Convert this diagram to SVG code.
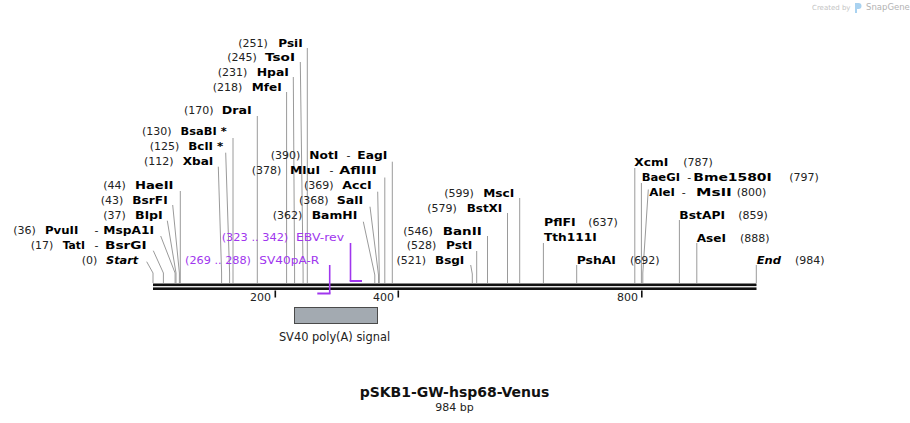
<svg xmlns="http://www.w3.org/2000/svg" width="910" height="423" viewBox="0 0 910 423">
<style>
text{font-family:"DejaVu Sans","Liberation Sans",sans-serif;font-size:11px}
.n{fill:#222}
.b{font-weight:bold;fill:#000}
.bi{font-weight:bold;font-style:italic;fill:#000}
.p{fill:#a036ee}
.ld{stroke:#9a9a9a;stroke-width:1;fill:none}
.pr{stroke:#a036ee;fill:none}
.wm{fill:#c4c4c4;font-size:7px}
</style>
<rect width="910" height="423" fill="#fff"/>
<g id="watermark">
<text class="wm" x="812" y="10">Created by</text>
<path d="M855 3h3.5a3 3 0 0 1 0 6h-1.5v4h-2z" fill="#a9d2f0"/>
<text class="wm" x="866" y="10" style="font-size:8.5px;fill:#b3b3b3">SnapGene</text>
</g>
<g id="connectors">
<polyline class="ld" points="146.7,261.7 153,273 153,283"/>
<polyline class="ld" points="153.3,250.7 163.4,273 163.4,283"/>
<polyline class="ld" points="160.7,236 175.1,273 175.1,283"/>
<polyline class="ld" points="167.3,220.7 176,273 176,283"/>
<polyline class="ld" points="172.7,205 179.4,273 179.4,283"/>
<polyline class="ld" points="180.3,191 180.3,283"/>
<polyline class="ld" points="218.3,166.7 221.6,273 221.6,283"/>
<polyline class="ld" points="225.7,152.7 229.6,273 229.6,283"/>
<polyline class="ld" points="233,138 233,283"/>
<polyline class="ld" points="257.3,116 257.3,283"/>
<polyline class="ld" points="286.6,92 286.6,283"/>
<polyline class="ld" points="293.3,77 294.6,273 294.6,283"/>
<polyline class="ld" points="300.3,62 303.1,273 303.1,283"/>
<polyline class="ld" points="307.3,48 307.3,283"/>
<polyline class="ld" points="363.3,221.7 374.8,275 374.8,283"/>
<polyline class="ld" points="370,206.7 378.5,275 378.5,283"/>
<polyline class="ld" points="377.7,191.7 379.3,275 379.3,283"/>
<polyline class="ld" points="384.8,177.5 384.8,283"/>
<polyline class="ld" points="392.3,161.7 392.3,283"/>
<polyline class="ld" points="470.7,265 472.3,274 472.3,283"/>
<polyline class="ld" points="476.7,251 476.7,283"/>
<polyline class="ld" points="487.5,236 487.5,283"/>
<polyline class="ld" points="507.5,213 507.5,283"/>
<polyline class="ld" points="519.7,198 519.7,283"/>
<polyline class="ld" points="543.4,243 543.4,283"/>
<polyline class="ld" points="576.7,265 576.7,283"/>
<polyline class="ld" points="634.8,168 634.8,283"/>
<polyline class="ld" points="641.4,183 641.4,283"/>
<polyline class="ld" points="648.3,189.5 642.8,273 642.8,283"/>
<polyline class="ld" points="679.4,220 679.4,283"/>
<polyline class="ld" points="696.8,243 696.8,283"/>
<polyline class="ld" points="756.3,265 756.3,283"/>
</g>
<g id="backbone">
<rect x="153" y="283.5" width="603.5" height="2.6" fill="#111"/>
<rect x="153" y="287.4" width="603.5" height="2.6" fill="#111"/>
</g>
<g id="ticks">
<rect x="274.5" y="290.5" width="1.6" height="7" fill="#111"/>
<text class="n" x="271" y="301" text-anchor="end">200</text>
<rect x="397.5" y="290.5" width="1.6" height="7" fill="#111"/>
<text class="n" x="394" y="301" text-anchor="end">400</text>
<rect x="641" y="290.5" width="1.6" height="7" fill="#111"/>
<text class="n" x="638" y="301" text-anchor="end">800</text>
</g>
<g id="primer-SV40pA-R">
<path class="pr" stroke-width="1.6" d="M329.7,265V293.5"/>
<path class="pr" stroke-width="2" d="M317.3,293.5H330.5"/>
<text class="p" x="185" y="263.5" textLength="66" lengthAdjust="spacingAndGlyphs">(269 .. 288)</text>
<text class="p" x="259.3" y="263.5" textLength="60" lengthAdjust="spacingAndGlyphs">SV40pA-R</text>
</g>
<g id="primer-EBV-rev">
<path class="pr" stroke-width="1.6" d="M350.5,243V281"/>
<path class="pr" stroke-width="2" d="M349.7,281H362"/>
<text class="p" x="221.7" y="241" textLength="66.6" lengthAdjust="spacingAndGlyphs">(323 .. 342)</text>
<text class="p" x="296" y="241" textLength="48" lengthAdjust="spacingAndGlyphs">EBV-rev</text>
</g>
<g id="feature-SV40polyA">
<rect x="294.5" y="307.5" width="83" height="16" fill="#a3aab1" stroke="#4a4a4a" stroke-width="1"/>
<text class="n" x="334.5" y="340.5" text-anchor="middle" style="font-size:11.4px">SV40 poly(A) signal</text>
</g>
<g id="site-Start"><text class="n" x="81.7" y="263.5">(0)</text><text class="bi" x="106" y="263.5" textLength="32.3" lengthAdjust="spacingAndGlyphs">Start</text></g>
<g id="site-TatI"><text class="n" x="30.7" y="248.5">(17)</text><text class="b" x="62.7" y="248.5" textLength="22.3" lengthAdjust="spacingAndGlyphs">TatI</text><text class="n" x="94.5" y="248.5">-</text><text class="b" x="105" y="248.5" textLength="41.7" lengthAdjust="spacingAndGlyphs">BsrGI</text></g>
<g id="site-PvuII"><text class="n" x="13.3" y="233.5">(36)</text><text class="b" x="45" y="233.5" textLength="33.3" lengthAdjust="spacingAndGlyphs">PvuII</text><text class="n" x="94.5" y="233.5">-</text><text class="b" x="103.3" y="233.5" textLength="50.7" lengthAdjust="spacingAndGlyphs">MspA1I</text></g>
<g id="site-BlpI"><text class="n" x="103.3" y="218.5">(37)</text><text class="b" x="135" y="218.5" textLength="27.7" lengthAdjust="spacingAndGlyphs">BlpI</text></g>
<g id="site-BsrFI"><text class="n" x="100.7" y="203.5">(43)</text><text class="b" x="132.3" y="203.5" textLength="35.4" lengthAdjust="spacingAndGlyphs">BsrFI</text></g>
<g id="site-HaeII"><text class="n" x="103.3" y="188.5">(44)</text><text class="b" x="135" y="188.5" textLength="38.5" lengthAdjust="spacingAndGlyphs">HaeII</text></g>
<g id="site-XbaI"><text class="n" x="144" y="165">(112)</text><text class="b" x="182.7" y="165" textLength="30.6" lengthAdjust="spacingAndGlyphs">XbaI</text></g>
<g id="site-BclI"><text class="n" x="149.7" y="149.5">(125)</text><text class="b" x="188.3" y="149.5" textLength="35" lengthAdjust="spacingAndGlyphs">BclI *</text></g>
<g id="site-BsaBI"><text class="n" x="142" y="134.5">(130)</text><text class="b" x="180.6" y="134.5" textLength="46" lengthAdjust="spacingAndGlyphs">BsaBI *</text></g>
<g id="site-DraI"><text class="n" x="184" y="114">(170)</text><text class="b" x="221.7" y="114" textLength="30" lengthAdjust="spacingAndGlyphs">DraI</text></g>
<g id="site-MfeI"><text class="n" x="212.7" y="91">(218)</text><text class="b" x="251.7" y="91" textLength="30" lengthAdjust="spacingAndGlyphs">MfeI</text></g>
<g id="site-HpaI"><text class="n" x="217.7" y="76">(231)</text><text class="b" x="256.7" y="76" textLength="32.3" lengthAdjust="spacingAndGlyphs">HpaI</text></g>
<g id="site-TsoI"><text class="n" x="227.3" y="61">(245)</text><text class="b" x="265" y="61" textLength="30" lengthAdjust="spacingAndGlyphs">TsoI</text></g>
<g id="site-PsiI"><text class="n" x="238.3" y="46.5">(251)</text><text class="b" x="278.3" y="46.5" textLength="24.4" lengthAdjust="spacingAndGlyphs">PsiI</text></g>
<g id="site-NotI"><text class="n" x="270.7" y="158.5">(390)</text><text class="b" x="309.3" y="158.5" textLength="29" lengthAdjust="spacingAndGlyphs">NotI</text><text class="n" x="346.5" y="158.5">-</text><text class="b" x="357.3" y="158.5" textLength="30" lengthAdjust="spacingAndGlyphs">EagI</text></g>
<g id="site-MluI"><text class="n" x="251.7" y="173.5">(378)</text><text class="b" x="290" y="173.5" textLength="30" lengthAdjust="spacingAndGlyphs">MluI</text><text class="n" x="329.5" y="173.5">-</text><text class="b" x="339.3" y="173.5" textLength="37.4" lengthAdjust="spacingAndGlyphs">AflIII</text></g>
<g id="site-AccI"><text class="n" x="304" y="188.5">(369)</text><text class="b" x="342.3" y="188.5" textLength="29.4" lengthAdjust="spacingAndGlyphs">AccI</text></g>
<g id="site-SalI"><text class="n" x="299" y="203.5">(368)</text><text class="b" x="336.7" y="203.5" textLength="26.6" lengthAdjust="spacingAndGlyphs">SalI</text></g>
<g id="site-BamHI"><text class="n" x="272.7" y="218.5">(362)</text><text class="b" x="311.7" y="218.5" textLength="45.6" lengthAdjust="spacingAndGlyphs">BamHI</text></g>
<g id="site-MscI"><text class="n" x="444.3" y="196.5">(599)</text><text class="b" x="483.3" y="196.5" textLength="31" lengthAdjust="spacingAndGlyphs">MscI</text></g>
<g id="site-BstXI"><text class="n" x="427.3" y="211.5">(579)</text><text class="b" x="466.7" y="211.5" textLength="35.6" lengthAdjust="spacingAndGlyphs">BstXI</text></g>
<g id="site-BanII"><text class="n" x="403.3" y="234.5">(546)</text><text class="b" x="442.7" y="234.5" textLength="39" lengthAdjust="spacingAndGlyphs">BanII</text></g>
<g id="site-PstI"><text class="n" x="406.7" y="249">(528)</text><text class="b" x="446" y="249" textLength="26.3" lengthAdjust="spacingAndGlyphs">PstI</text></g>
<g id="site-BsgI"><text class="n" x="396.4" y="263.5">(521)</text><text class="b" x="435" y="263.5" textLength="29.3" lengthAdjust="spacingAndGlyphs">BsgI</text></g>
<g id="site-PflFI"><text class="b" x="544" y="226" textLength="31.7" lengthAdjust="spacingAndGlyphs">PflFI</text><text class="n" x="588.3" y="226">(637)</text><text class="b" x="544" y="240.5" textLength="52.7" lengthAdjust="spacingAndGlyphs">Tth111I</text></g>
<g id="site-PshAI"><text class="b" x="576.7" y="263.5" textLength="39.3" lengthAdjust="spacingAndGlyphs">PshAI</text><text class="n" x="630" y="263.5">(692)</text></g>
<g id="site-XcmI"><text class="b" x="634.3" y="166" textLength="34" lengthAdjust="spacingAndGlyphs">XcmI</text><text class="n" x="683.3" y="166">(787)</text></g>
<g id="site-BaeGI"><text class="b" x="641.7" y="181" textLength="38.3" lengthAdjust="spacingAndGlyphs">BaeGI</text><text class="n" x="687.3" y="181">-</text><text class="b" x="693.3" y="181" textLength="78.4" lengthAdjust="spacingAndGlyphs">Bme1580I</text><text class="n" x="789.3" y="181">(797)</text></g>
<g id="site-AleI"><text class="b" x="649.3" y="196" textLength="25.7" lengthAdjust="spacingAndGlyphs">AleI</text><text class="n" x="681.7" y="196">-</text><text class="b" x="696" y="196" textLength="35.7" lengthAdjust="spacingAndGlyphs">MslI</text><text class="n" x="736.7" y="196">(800)</text></g>
<g id="site-BstAPI"><text class="b" x="679.3" y="219" textLength="45.7" lengthAdjust="spacingAndGlyphs">BstAPI</text><text class="n" x="738.3" y="219">(859)</text></g>
<g id="site-AseI"><text class="b" x="696.7" y="241.5" textLength="29.3" lengthAdjust="spacingAndGlyphs">AseI</text><text class="n" x="740" y="241.5">(888)</text></g>
<g id="site-End"><text class="bi" x="756.7" y="263.5" textLength="24.3" lengthAdjust="spacingAndGlyphs">End</text><text class="n" x="795" y="263.5">(984)</text></g>
<g id="title">
<text x="454.5" y="396.7" text-anchor="middle" style="font-size:14px;font-weight:bold;fill:#111">pSKB1-GW-hsp68-Venus</text>
<text class="n" x="454.5" y="410.7" text-anchor="middle">984 bp</text>
</g>
</svg>
